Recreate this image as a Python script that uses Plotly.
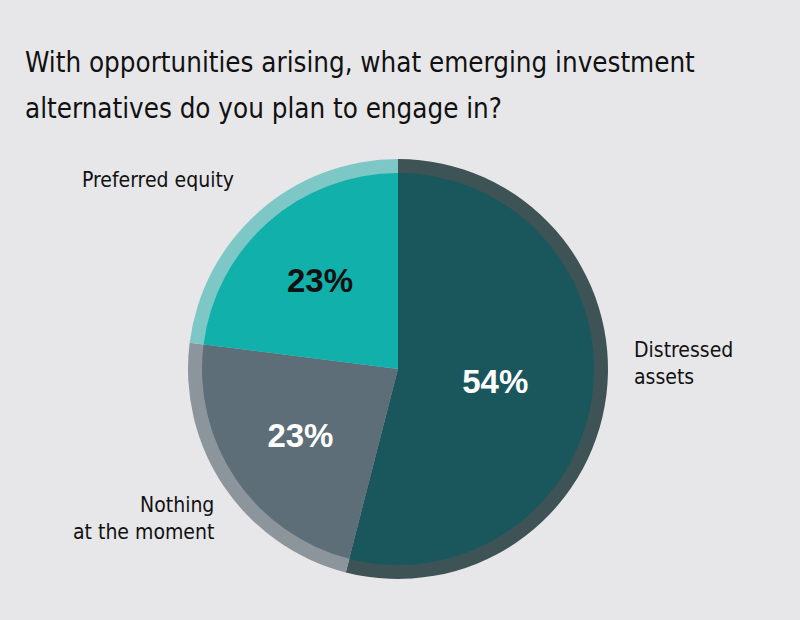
import plotly.graph_objects as go

categories = ["Distressed assets", "Nothing at the moment", "Preferred equity"]
values = [54, 23, 23]
inner_colors = ["#1a575c", "#5e6e78", "#12b0aa"]
ring_colors = ["#3e5356", "#8c959c", "#7dc8c6"]
text_colors = ["#ffffff", "#ffffff", "#111111"]
title_lines = ["With opportunities arising, what emerging investment",
               "alternatives do you plan to engage in?"]
label_texts = ["Distressed<br>assets", "Nothing<br>at the moment", "Preferred equity"]

W, H = 800, 620
def px(x):
    return x / W
def py(y):
    return 1 - y / H

cx, cy, r_out, r_in = 398, 369, 210, 196

narrow = "Liberation Sans Narrow, Arial Narrow, DejaVu Sans Condensed, sans-serif"

fig = go.Figure()
fig.add_trace(go.Pie(
    labels=categories, values=values, sort=False, direction="clockwise", rotation=0,
    marker=dict(colors=ring_colors, line=dict(width=0)),
    textinfo="none", hoverinfo="skip", showlegend=False,
    domain=dict(x=[px(cx - r_out), px(cx + r_out)], y=[py(cy + r_out), py(cy - r_out)]),
))
fig.add_trace(go.Pie(
    labels=categories, values=values, sort=False, direction="clockwise", rotation=0,
    marker=dict(colors=inner_colors, line=dict(width=0)),
    texttemplate="%{value}%", textposition="inside", insidetextorientation="horizontal",
    insidetextfont=dict(family="Liberation Sans, Arial, sans-serif", size=33, color=text_colors, weight="bold"),
    showlegend=False,
    domain=dict(x=[px(cx - r_in), px(cx + r_in)], y=[py(cy + r_in), py(cy - r_in)]),
))

annotations = []
for i, line in enumerate(title_lines):
    annotations.append(dict(text=line, x=px(23), y=py(62 + 46 * i), xref="paper", yref="paper",
                            xanchor="left", yanchor="middle", showarrow=False,
                            font=dict(family=narrow, size=27.5, color="#111111")))
label_pos = [(632, 363, "left"), (216, 518, "right"), (80, 180, "left")]
for t, (x, y, a) in zip(label_texts, label_pos):
    annotations.append(dict(text=t, x=px(x), y=py(y), xref="paper", yref="paper",
                            xanchor=a, yanchor="middle", align=a, showarrow=False,
                            font=dict(family=narrow, size=21, color="#111111")))

fig.update_layout(
    width=W, height=H, margin=dict(l=0, r=0, t=0, b=0),
    paper_bgcolor="#e7e7e9", plot_bgcolor="#e7e7e9",
    annotations=annotations,
)
fig.write_html("out.html", config={"displayModeBar": False},
               post_script="document.body.style.margin='0px';document.body.style.background='#e7e7e9';")
